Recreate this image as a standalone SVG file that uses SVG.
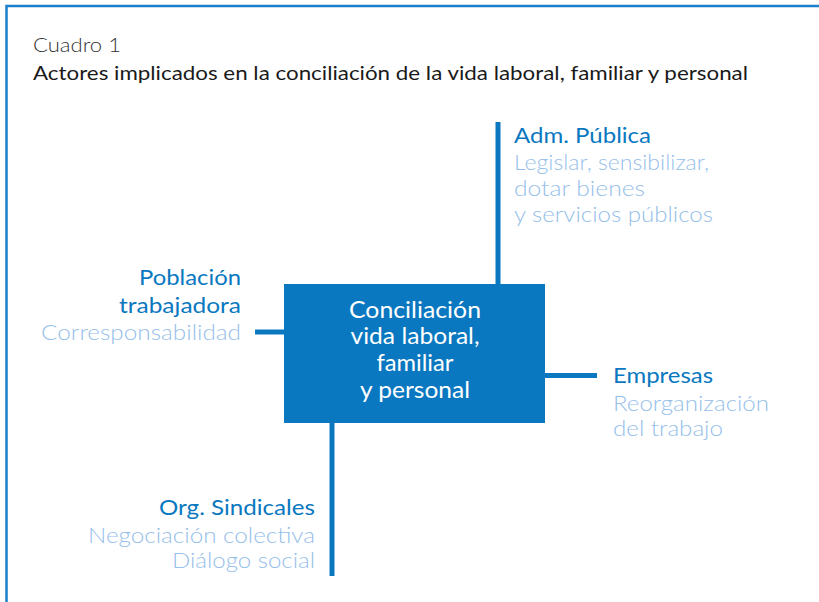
<svg xmlns="http://www.w3.org/2000/svg" width="819" height="602" viewBox="0 0 819 602">
<style>
.h{font-family:Lato,"Liberation Sans",sans-serif;font-size:22px;fill:#0a78c0;}
.s{font-family:Lato,"Liberation Sans",sans-serif;font-weight:300;font-size:22px;fill:#96c0ea;}
.c{font-family:Lato,"Liberation Sans",sans-serif;font-size:23px;fill:#ffffff;text-anchor:middle;}
.ln{stroke:#0a78c0;stroke-width:5;fill:none;}
</style>
<rect width="819" height="602" fill="#ffffff"/>
<rect x="6.5" y="6" width="900" height="700" fill="none" stroke="#1a80cc" stroke-width="2.5"/>
<text x="33" y="52" font-family="Lato,'Liberation Sans',sans-serif" font-weight="300" font-size="20" fill="#333333" textLength="88" lengthAdjust="spacingAndGlyphs">Cuadro 1</text>
<text x="33" y="80" font-family="Lato,'Liberation Sans',sans-serif" font-size="19" fill="#1a1a1a" textLength="715" lengthAdjust="spacingAndGlyphs">Actores implicados en la conciliación de la vida laboral, familiar y personal</text>
<g id="connectors">
<line class="ln" x1="498" y1="122" x2="498" y2="284"/>
<line class="ln" x1="255" y1="332" x2="284" y2="332"/>
<line class="ln" x1="545" y1="375.5" x2="597" y2="375.5"/>
<line class="ln" x1="332" y1="423" x2="332" y2="576"/>
</g>
<g id="centro">
<rect x="284" y="284" width="261" height="139" fill="#0a78c0"/>
<text class="c" x="415" y="318" textLength="132" lengthAdjust="spacingAndGlyphs">Conciliación</text>
<text class="c" x="415" y="344" textLength="129" lengthAdjust="spacingAndGlyphs">vida laboral,</text>
<text class="c" x="415" y="371" textLength="77" lengthAdjust="spacingAndGlyphs">familiar</text>
<text class="c" x="415" y="398" textLength="110" lengthAdjust="spacingAndGlyphs">y personal</text>
</g>
<g id="adm">
<text class="h" x="514" y="143" textLength="137" lengthAdjust="spacingAndGlyphs">Adm. Pública</text>
<text class="s" x="514" y="170" textLength="195" lengthAdjust="spacingAndGlyphs">Legislar, sensibilizar,</text>
<text class="s" x="514" y="196" textLength="131" lengthAdjust="spacingAndGlyphs">dotar bienes</text>
<text class="s" x="514" y="222" textLength="199" lengthAdjust="spacingAndGlyphs">y servicios públicos</text>
</g>
<g id="poblacion" text-anchor="end">
<text class="h" x="241" y="285" textLength="102" lengthAdjust="spacingAndGlyphs">Población</text>
<text class="h" x="241" y="313" textLength="122" lengthAdjust="spacingAndGlyphs">trabajadora</text>
<text class="s" x="241" y="340" textLength="200" lengthAdjust="spacingAndGlyphs">Corresponsabilidad</text>
</g>
<g id="empresas">
<text class="h" x="613" y="383" textLength="100" lengthAdjust="spacingAndGlyphs">Empresas</text>
<text class="s" x="613" y="411" textLength="156" lengthAdjust="spacingAndGlyphs">Reorganización</text>
<text class="s" x="613" y="436" textLength="110" lengthAdjust="spacingAndGlyphs">del trabajo</text>
</g>
<g id="sindicales" text-anchor="end">
<text class="h" x="315" y="515" textLength="156" lengthAdjust="spacingAndGlyphs">Org. Sindicales</text>
<text class="s" x="315" y="543" textLength="227" lengthAdjust="spacingAndGlyphs">Negociación colectiva</text>
<text class="s" x="315" y="568" textLength="143" lengthAdjust="spacingAndGlyphs">Diálogo social</text>
</g>
</svg>
